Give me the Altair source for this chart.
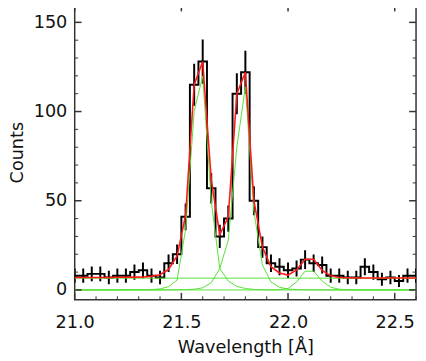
import altair as alt
import pandas as pd

# ---- data ----
centers = [21.00, 21.04, 21.08, 21.12, 21.16, 21.20, 21.24, 21.28, 21.32, 21.36,
           21.40, 21.44, 21.48, 21.52, 21.56, 21.60, 21.64, 21.68, 21.72, 21.76,
           21.80, 21.84, 21.88, 21.92, 21.96, 22.00, 22.04, 22.08, 22.12, 22.16,
           22.20, 22.24, 22.28, 22.32, 22.36, 22.40, 22.44, 22.48, 22.52, 22.56,
           22.60]
bin_width = 0.04
counts = [8, 8, 9, 9, 7, 8, 8, 10, 11, 8,
          7, 15, 20, 41, 115, 128, 57, 30, 40, 110,
          122, 50, 24, 15, 13, 11, 12, 17, 15, 14,
          8, 8, 7, 7, 13, 10, 6, 7, 5, 8,
          8]
errors = [4.0, 4.0, 4.1, 4.1, 3.8, 4.0, 4.0, 4.3, 4.4, 4.0,
          3.8, 4.9, 5.5, 7.5, 11.8, 12.4, 8.6, 6.5, 7.4, 11.5,
          12.1, 8.1, 6.0, 4.9, 4.7, 4.4, 4.5, 5.2, 4.9, 4.8,
          4.0, 4.0, 3.8, 3.8, 4.7, 4.3, 3.6, 3.8, 3.4, 4.0,
          4.0]
model_total = [7.0, 7.0, 7.0, 7.0, 7.0, 7.1, 7.1, 7.2, 7.3, 7.6,
               8.5, 11.5, 19.0, 42.0, 115.0, 128.0, 62.0, 31.0, 41.0, 110.0,
               122.0, 50.0, 24.0, 13.0, 9.5, 8.3, 11.2, 17.2, 17.2, 11.0,
               7.9, 7.0, 6.8, 6.7, 6.7, 6.7, 6.7, 6.7, 6.7, 6.7,
               6.7]
comp_line1 = [0.0, 0.0, 0.0, 0.0, 0.0, 0.0, 0.1, 0.1, 0.1, 0.2,
              0.6, 1.8, 5.5, 34.0, 100.0, 120.0, 50.0, 12.0, 5.0, 2.0,
              0.8, 0.3, 0.1, 0.0, 0.0, 0.0, 0.0, 0.0, 0.0, 0.0,
              0.0, 0.0, 0.0, 0.0, 0.0, 0.0, 0.0, 0.0, 0.0, 0.0,
              0.0]
comp_line2 = [0.0, 0.0, 0.0, 0.0, 0.0, 0.0, 0.0, 0.0, 0.0, 0.0,
              0.0, 0.1, 0.1, 0.2, 0.4, 1.2, 4.0, 12.0, 28.0, 80.0,
              114.0, 44.0, 14.0, 4.5, 1.5, 0.5, 0.2, 0.1, 0.1, 0.0,
              0.0, 0.0, 0.0, 0.0, 0.0, 0.0, 0.0, 0.0, 0.0, 0.0,
              0.0]
comp_line3 = [0.0, 0.0, 0.0, 0.0, 0.0, 0.0, 0.0, 0.0, 0.0, 0.0,
              0.0, 0.0, 0.0, 0.0, 0.0, 0.0, 0.0, 0.0, 0.0, 0.0,
              0.0, 0.0, 0.0, 0.0, 0.2, 0.8, 4.5, 10.5, 10.5, 5.0,
              1.5, 0.4, 0.1, 0.0, 0.0, 0.0, 0.0, 0.0, 0.0, 0.0,
              0.0]
background = 6.6

x_major = [21.0, 21.5, 22.0, 22.5]
x_minor = [21.1, 21.2, 21.3, 21.4, 21.6, 21.7, 21.8, 21.9,
           22.1, 22.2, 22.3, 22.4, 22.6]
y_major = [0, 50, 100, 150]
y_minor = [10, 20, 30, 40, 60, 70, 80, 90, 110, 120, 130, 140]

# ---- layout ----
W, H = 348, 301
FONT = "DejaVu Sans"
FW = "normal"
MAJ, MIN = 7, 3.5
TICK_COLOR = "#333333"

xs = alt.Scale(domain=[21.0, 22.6], nice=False, zero=False)
ys = alt.Scale(domain=[-5.5, 160], nice=False, zero=False)

x_axis = alt.Axis(values=x_major, format=".1f", ticks=False, domain=False, grid=False,
                  labelFont=FONT, labelFontSize=18, labelFontWeight=FW, labelColor="#111111",
                  labelPadding=14, labelFlush=False, labelOverlap=False,
                  title="Wavelength [Å]", titleFont=FONT, titleFontSize=18,
                  titleFontWeight=FW, titleColor="#111111", titlePadding=8)
y_axis = alt.Axis(values=y_major, format="d", ticks=False, domain=False, grid=False,
                  labelFont=FONT, labelFontSize=18, labelFontWeight=FW, labelColor="#111111",
                  labelPadding=8, labelFlush=False, labelOverlap=False,
                  title="Counts", titleFont=FONT, titleFontSize=18,
                  titleFontWeight=FW, titleColor="#111111", titlePadding=7)

X = lambda f: alt.X(f, scale=xs, axis=x_axis)
Y = lambda f: alt.Y(f, scale=ys, axis=y_axis)

# histogram as step line through bin edges
edge_x = [c - bin_width / 2 for c in centers] + [centers[-1] + bin_width / 2]
edge_y = counts + [counts[-1]]
hist_df = pd.DataFrame({"x": edge_x, "y": edge_y})

hist = alt.Chart(hist_df).mark_line(
    interpolate="step-after", color="black", strokeWidth=2, clip=True
).encode(x=X("x:Q"), y=Y("y:Q"))

err_df = pd.DataFrame({
    "x": centers,
    "y": [c - e for c, e in zip(counts, errors)],
    "y2": [c + e for c, e in zip(counts, errors)],
})
errbars = alt.Chart(err_df).mark_rule(color="black", strokeWidth=2, clip=True).encode(
    x=X("x:Q"), y=Y("y:Q"), y2="y2:Q",
)

comp_rows = []
for name, vals in [("bg", [background] * len(centers)), ("l1", comp_line1),
                   ("l2", comp_line2), ("l3", comp_line3)]:
    for xv, yv in zip(centers, vals):
        comp_rows.append({"comp": name, "x": xv, "y": yv})
comp_df = pd.DataFrame(comp_rows)
comps = alt.Chart(comp_df).mark_line(color="#55e035", strokeWidth=1, clip=True).encode(
    x=X("x:Q"), y=Y("y:Q"), detail="comp:N",
)

model_df = pd.DataFrame({"x": centers, "y": model_total})
model = alt.Chart(model_df).mark_line(color="#ff1a1a", strokeWidth=1.6, clip=True).encode(
    x=X("x:Q"), y=Y("y:Q"),
)

# inward ticks on all four sides
def xticks(vals, length, width):
    d = pd.DataFrame({"x": vals})
    base = alt.Chart(d).mark_rule(color=TICK_COLOR, strokeWidth=width)
    bottom = base.encode(x=X("x:Q"), y=alt.value(H), y2=alt.value(H - length))
    top = base.encode(x=X("x:Q"), y=alt.value(0), y2=alt.value(length))
    return [bottom, top]

def yticks(vals, length, width):
    d = pd.DataFrame({"y": vals})
    base = alt.Chart(d).mark_rule(color=TICK_COLOR, strokeWidth=width)
    left = base.encode(y=Y("y:Q"), x=alt.value(0), x2=alt.value(length))
    right = base.encode(y=Y("y:Q"), x=alt.value(W), x2=alt.value(W - length))
    return [left, right]

tick_layers = (xticks(x_major, MAJ, 1.5) + xticks(x_minor, MIN, 1) +
               yticks(y_major, MAJ, 1.5) + yticks(y_minor, MIN, 1))

chart = alt.layer(hist, errbars, comps, model, *tick_layers).properties(
    width=W, height=H,
    padding={"left": 68, "right": 2, "top": -7, "bottom": 59},
    autosize="none",
    background="white",
).configure_view(stroke="#333333", strokeWidth=1.5)

chart.save("out.html", embed_options={"renderer": "svg", "actions": False})
